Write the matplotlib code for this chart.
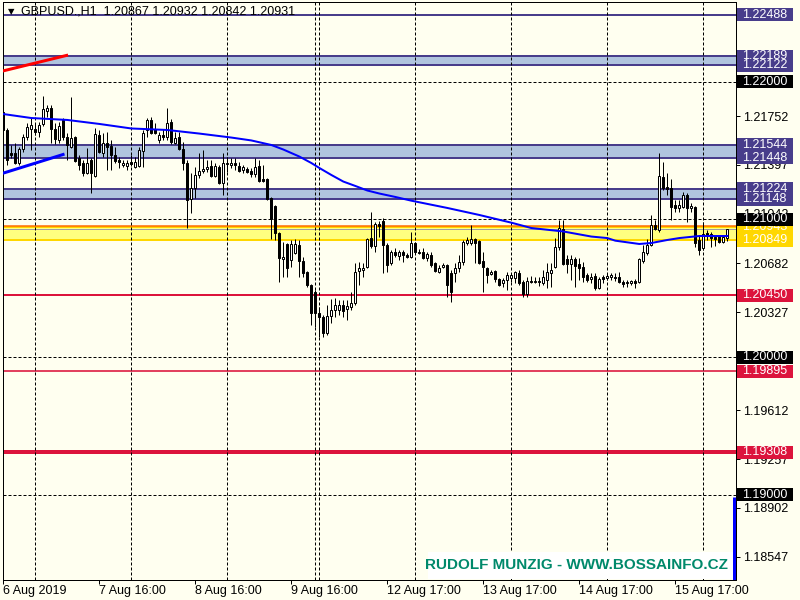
import matplotlib
matplotlib.use('Agg')
import matplotlib.pyplot as plt
import matplotlib.transforms as mtransforms
from matplotlib.patches import Rectangle

plt.rcParams['font.family'] = ['Liberation Sans', 'DejaVu Sans']
plt.rcParams['lines.scale_dashes'] = False

# ---- data (GBPUSD H1) ----
opens = [1.21782, 1.21651, 1.21484, 1.21484, 1.21411, 1.21513, 1.21600, 1.21658, 1.21658, 1.21636,
         1.21695, 1.21789, 1.21811, 1.21658, 1.21578, 1.21724, 1.21600, 1.21527, 1.21600, 1.21447,
         1.21411, 1.21338, 1.21433, 1.21316, 1.21615, 1.21484, 1.21556, 1.21535, 1.21469, 1.21433,
         1.21396, 1.21389, 1.21418, 1.21382, 1.21389, 1.21498, 1.21651, 1.21724, 1.21658, 1.21578,
         1.21615, 1.21600, 1.21709, 1.21556, 1.21600, 1.21513, 1.21411, 1.21149, 1.21229, 1.21324,
         1.21353, 1.21367, 1.21389, 1.21316, 1.21382, 1.21265, 1.21404, 1.21396, 1.21411, 1.21389,
         1.21360, 1.21367, 1.21353, 1.21331, 1.21389, 1.21295, 1.21295, 1.21156, 1.21098, 1.20902,
         1.20713, 1.20822, 1.20705, 1.20756, 1.20815, 1.20698, 1.20618, 1.20524, 1.20473, 1.20320,
         1.20291, 1.20175, 1.20298, 1.20342, 1.20342, 1.20378, 1.20349, 1.20364, 1.20393, 1.20625,
         1.20633, 1.20655, 1.20865, 1.20807, 1.20967, 1.20989, 1.20815, 1.20684, 1.20764, 1.20735,
         1.20764, 1.20742, 1.20727, 1.20829, 1.20764, 1.20764, 1.20720, 1.20742, 1.20684, 1.20618,
         1.20655, 1.20669, 1.20611, 1.20611, 1.20647, 1.20691, 1.20829, 1.20829, 1.20858, 1.20844,
         1.20698, 1.20647, 1.20604, 1.20625, 1.20567, 1.20538, 1.20560, 1.20575, 1.20575, 1.20611,
         1.20545, 1.20458, 1.20553, 1.20545, 1.20553, 1.20538, 1.20560, 1.20611, 1.20655, 1.20800,
         1.20931, 1.20713, 1.20676, 1.20713, 1.20676, 1.20655, 1.20596, 1.20567, 1.20589, 1.20502,
         1.20582, 1.20575, 1.20582, 1.20582, 1.20582, 1.20545, 1.20538, 1.20538, 1.20553, 1.20545,
         1.20698, 1.20756, 1.20815, 1.20960, 1.20924, 1.21309, 1.21236, 1.21229, 1.21105, 1.21084,
         1.21091, 1.21178, 1.21084, 1.21091, 1.20851, 1.20793, 1.20902, 1.20895, 1.20873, 1.20880,
         1.20836, 1.20867]
highs = [1.21811, 1.21666, 1.21542, 1.21556, 1.21527, 1.21622, 1.21702, 1.21738, 1.21702, 1.21709,
         1.21898, 1.21833, 1.21833, 1.21702, 1.21709, 1.21738, 1.21629, 1.21891, 1.21607, 1.21469,
         1.21433, 1.21520, 1.21447, 1.21666, 1.21651, 1.21629, 1.21636, 1.21578, 1.21527, 1.21455,
         1.21433, 1.21433, 1.21469, 1.21455, 1.21527, 1.21651, 1.21738, 1.21745, 1.21702, 1.21636,
         1.21658, 1.21811, 1.21731, 1.21636, 1.21636, 1.21564, 1.21433, 1.21338, 1.21382, 1.21484,
         1.21505, 1.21433, 1.21433, 1.21411, 1.21396, 1.21484, 1.21455, 1.21447, 1.21447, 1.21418,
         1.21396, 1.21382, 1.21375, 1.21447, 1.21433, 1.21396, 1.21302, 1.21164, 1.21105, 1.20909,
         1.20836, 1.20829, 1.20851, 1.20858, 1.20851, 1.20727, 1.20625, 1.20530, 1.20487, 1.20364,
         1.20305, 1.20378, 1.20422, 1.20429, 1.20415, 1.20415, 1.20415, 1.20473, 1.20684, 1.20691,
         1.20684, 1.20865, 1.21055, 1.20982, 1.20989, 1.21011, 1.20829, 1.20778, 1.20793, 1.20778,
         1.20778, 1.20756, 1.20909, 1.20836, 1.20785, 1.20793, 1.20764, 1.20764, 1.20691, 1.20669,
         1.20684, 1.20676, 1.20633, 1.20684, 1.20742, 1.20851, 1.20873, 1.20960, 1.20865, 1.20851,
         1.20764, 1.20655, 1.20633, 1.20633, 1.20575, 1.20575, 1.20618, 1.20611, 1.20625, 1.20633,
         1.20560, 1.20582, 1.20589, 1.20582, 1.20582, 1.20633, 1.20684, 1.20684, 1.20865, 1.20996,
         1.20996, 1.20742, 1.20742, 1.20727, 1.20720, 1.20691, 1.20611, 1.20611, 1.20611, 1.20582,
         1.20596, 1.20611, 1.20611, 1.20611, 1.20618, 1.20560, 1.20560, 1.20560, 1.20567, 1.20720,
         1.20815, 1.20858, 1.21033, 1.20996, 1.21484, 1.21418, 1.21338, 1.21295, 1.21142, 1.21142,
         1.21200, 1.21193, 1.21120, 1.21098, 1.20887, 1.20982, 1.20924, 1.20909, 1.20887, 1.20887,
         1.20880, 1.20932]
lows = [1.21644, 1.21396, 1.21447, 1.21404, 1.21396, 1.21491, 1.21578, 1.21505, 1.21615, 1.21600,
        1.21680, 1.21745, 1.21556, 1.21549, 1.21556, 1.21578, 1.21433, 1.21520, 1.21418, 1.21360,
        1.21316, 1.21331, 1.21193, 1.21309, 1.21484, 1.21455, 1.21360, 1.21360, 1.21411, 1.21375,
        1.21382, 1.21360, 1.21389, 1.21375, 1.21382, 1.21382, 1.21600, 1.21622, 1.21622, 1.21556,
        1.21578, 1.21578, 1.21549, 1.21549, 1.21505, 1.21360, 1.20938, 1.21047, 1.21156, 1.21302,
        1.21338, 1.21345, 1.21309, 1.21309, 1.21258, 1.21178, 1.21345, 1.21375, 1.21360, 1.21345,
        1.21338, 1.21338, 1.21309, 1.21309, 1.21273, 1.21273, 1.21142, 1.20858, 1.20851, 1.20545,
        1.20582, 1.20582, 1.20655, 1.20749, 1.20582, 1.20582, 1.20509, 1.20233, 1.20218, 1.20145,
        1.20145, 1.20160, 1.20247, 1.20291, 1.20305, 1.20291, 1.20269, 1.20342, 1.20378, 1.20524,
        1.20582, 1.20647, 1.20793, 1.20764, 1.20873, 1.20611, 1.20618, 1.20669, 1.20727, 1.20705,
        1.20691, 1.20720, 1.20720, 1.20756, 1.20749, 1.20713, 1.20698, 1.20655, 1.20618, 1.20611,
        1.20647, 1.20436, 1.20400, 1.20545, 1.20618, 1.20669, 1.20815, 1.20815, 1.20684, 1.20676,
        1.20473, 1.20538, 1.20596, 1.20545, 1.20516, 1.20509, 1.20487, 1.20545, 1.20538, 1.20524,
        1.20436, 1.20436, 1.20538, 1.20538, 1.20516, 1.20524, 1.20502, 1.20509, 1.20647, 1.20778,
        1.20669, 1.20611, 1.20560, 1.20509, 1.20560, 1.20545, 1.20545, 1.20538, 1.20487, 1.20495,
        1.20538, 1.20560, 1.20560, 1.20553, 1.20538, 1.20509, 1.20509, 1.20524, 1.20502, 1.20538,
        1.20684, 1.20742, 1.20807, 1.20924, 1.20909, 1.21215, 1.21178, 1.20996, 1.21055, 1.21055,
        1.21084, 1.20982, 1.21055, 1.20800, 1.20742, 1.20778, 1.20851, 1.20800, 1.20807, 1.20829,
        1.20829, 1.20842]
closes = [1.21651, 1.21433, 1.21469, 1.21411, 1.21513, 1.21600, 1.21673, 1.21687, 1.21636, 1.21687,
          1.21804, 1.21811, 1.21658, 1.21585, 1.21680, 1.21600, 1.21542, 1.21593, 1.21425, 1.21396,
          1.21338, 1.21411, 1.21338, 1.21622, 1.21491, 1.21556, 1.21527, 1.21469, 1.21425, 1.21418,
          1.21411, 1.21411, 1.21404, 1.21418, 1.21505, 1.21629, 1.21724, 1.21629, 1.21629, 1.21615,
          1.21600, 1.21702, 1.21564, 1.21593, 1.21513, 1.21411, 1.21142, 1.21229, 1.21324, 1.21353,
          1.21367, 1.21382, 1.21316, 1.21389, 1.21265, 1.21411, 1.21411, 1.21411, 1.21396, 1.21353,
          1.21382, 1.21345, 1.21331, 1.21382, 1.21280, 1.21280, 1.21149, 1.21004, 1.20902, 1.20720,
          1.20727, 1.20647, 1.20822, 1.20822, 1.20698, 1.20611, 1.20524, 1.20320, 1.20320, 1.20291,
          1.20175, 1.20298, 1.20342, 1.20378, 1.20378, 1.20335, 1.20371, 1.20393, 1.20618, 1.20647,
          1.20647, 1.20858, 1.20807, 1.20967, 1.20953, 1.20815, 1.20669, 1.20764, 1.20742, 1.20764,
          1.20742, 1.20727, 1.20829, 1.20764, 1.20756, 1.20720, 1.20749, 1.20669, 1.20625, 1.20647,
          1.20669, 1.20524, 1.20473, 1.20647, 1.20691, 1.20836, 1.20851, 1.20858, 1.20829, 1.20684,
          1.20655, 1.20596, 1.20618, 1.20567, 1.20524, 1.20560, 1.20596, 1.20596, 1.20618, 1.20538,
          1.20458, 1.20553, 1.20545, 1.20553, 1.20545, 1.20582, 1.20618, 1.20633, 1.20800, 1.20938,
          1.20676, 1.20676, 1.20713, 1.20662, 1.20647, 1.20582, 1.20560, 1.20582, 1.20502, 1.20567,
          1.20567, 1.20589, 1.20596, 1.20575, 1.20545, 1.20531, 1.20545, 1.20553, 1.20538, 1.20713,
          1.20764, 1.20815, 1.20960, 1.20931, 1.21316, 1.21229, 1.21222, 1.21091, 1.21084, 1.21105,
          1.21178, 1.21084, 1.21098, 1.20829, 1.20778, 1.20895, 1.20887, 1.20865, 1.20858, 1.20836,
          1.20873, 1.20931]

# moving average, sampled at these bars
ma_idx = [0, 7, 16, 24, 32, 41, 49, 57, 62, 67, 70, 74, 77, 79, 82, 85, 88, 91, 94, 98, 102,
          111, 119, 127, 132, 140, 147, 151, 153, 159, 162, 166, 169, 174, 181]
ma_vals = [1.21767, 1.21738, 1.21724, 1.21695, 1.21662, 1.21651, 1.21625, 1.21596, 1.21575, 1.21542,
           1.21509, 1.21458, 1.21411, 1.21375, 1.21324, 1.21276, 1.21244, 1.21211, 1.21189, 1.21164,
           1.21137, 1.21084, 1.21033, 1.20977, 1.20938, 1.20913, 1.20876, 1.20865, 1.20846, 1.20822,
           1.20829, 1.20851, 1.20865, 1.20880, 1.20880]

time_idx = [0, 24, 48, 72, 96, 120, 144, 168]
time_labels = ['6 Aug 2019', '7 Aug 16:00', '8 Aug 16:00', '9 Aug 16:00',
               '12 Aug 17:00', '13 Aug 17:00', '14 Aug 17:00', '15 Aug 17:00']
day_separators = [8, 32, 56, 78, 79, 103, 127, 151, 175]

price_ticks = [1.21752, 1.21397, 1.21042, 1.20682, 1.20327, 1.19612, 1.19257, 1.18902, 1.18547]

zones_blue = [(1.22122, 1.22189), (1.21448, 1.21544), (1.21148, 1.21224)]
zone_yellow = (1.20849, 1.20943)
top_level = 1.22488
round_levels = [1.22000, 1.21000, 1.20000, 1.19000]
red_levels = [1.20450, 1.19895, 1.19308]
bid_price = 1.20931
ask_price = 1.20955

red_trend_x = [-0.15, 16.2]
red_trend_y = [1.22080, 1.22196]
blue_trend_x = [-0.15, 15.3]
blue_trend_y = [1.21336, 1.21476]
blue_bar_top = 1.18982

title = 'GBPUSD.,H1  1.20867 1.20932 1.20842 1.20931'
watermark = 'RUDOLF MUNZIG - WWW.BOSSAINFO.CZ'

# ---- styling ----
W, H = 800, 600
PX = 0.72          # one pixel in points at dpi 100
BG = '#FFFFF0'
SLATE = '#483D8B'
STEEL = '#B0C4DE'
CRIMSON = '#DC143C'
GOLD = '#FFD700'
DASH = (0, (3 * PX, 2 * PX))

fig = plt.figure(figsize=(8, 6), dpi=100, facecolor=BG)
ax = fig.add_axes([3 / W, 20 / H, 733 / W, 578 / H])
ax.set_facecolor(BG)
ax.set_xlim(-0.075, 183.175)
ax.set_ylim(1.183782, 1.225818)
px_per_unit = 13750.0

for s in ax.spines.values():
    s.set_color('black')
    s.set_linewidth(PX)

# zones and levels
for lo, hi in zones_blue:
    ax.axhspan(lo, hi, color=STEEL, lw=0, zorder=1)
    ax.axhline(lo, color=SLATE, lw=2 * PX, zorder=2)
    ax.axhline(hi, color=SLATE, lw=2 * PX, zorder=2)
ax.axhline(top_level, color=SLATE, lw=2 * PX, zorder=2)

ax.axhspan(zone_yellow[0], zone_yellow[1], color='#FFFF80', lw=0, zorder=1)
ax.axhline(zone_yellow[0], color=GOLD, lw=2 * PX, zorder=2)
ax.axhline(zone_yellow[1], color=GOLD, lw=2 * PX, zorder=2)
ax.axhline(ask_price, color='#FF6A00', lw=1.5 * PX, zorder=2)
ax.axhline(bid_price, color='#A0A0A0', lw=PX, zorder=2)

for lvl, w in zip(red_levels, [2, 1.6, 4]):
    ax.axhline(lvl, color=CRIMSON, lw=w * PX, zorder=2)
for lvl in round_levels:
    ax.axhline(lvl, color='black', lw=PX, ls=DASH, zorder=2)
for d in day_separators:
    ax.axvline(d, color='black', lw=PX, ls=DASH, zorder=2)

# trend lines
ax.plot(red_trend_x, red_trend_y, color='#FF0000', lw=3 * PX, zorder=3, solid_capstyle='butt')
ax.plot(blue_trend_x, blue_trend_y, color='#0000FF', lw=3 * PX, zorder=3, solid_capstyle='butt')

# candles
idx = list(range(len(opens)))
ax.vlines(idx, lows, highs, colors='black', linewidth=PX, zorder=3)
bottoms = [min(o, c) for o, c in zip(opens, closes)]
heights = [max(abs(c - o), 1.0 / px_per_unit) for o, c in zip(opens, closes)]
colors = ['white' if c > o else 'black' for o, c in zip(opens, closes)]
ax.bar(idx, heights, width=0.5, bottom=bottoms, color=colors,
       edgecolor='black', linewidth=PX, zorder=4)

# moving average
ax.plot(ma_idx, ma_vals, color='#0000FF', lw=2 * PX, zorder=5)

# blue indicator bar at the right edge
ax.vlines(182.6, ax.get_ylim()[0], blue_bar_top, colors='#0000FF', lw=3 * PX, zorder=5)

# axes ticks
ax.yaxis.tick_right()
ax.set_yticks(price_ticks)
ax.set_yticklabels([f'{p:.5f}' for p in price_ticks])
ax.tick_params(axis='y', direction='out', length=4 * PX, width=PX, pad=3 * PX,
               labelsize=9, colors='black')
ax.set_xticks(time_idx)
ax.set_xticklabels(time_labels, ha='left')
ax.tick_params(axis='x', direction='out', length=4 * PX, width=PX, pad=1 * PX,
               labelsize=9, colors='black')

# price labels on the right
trans = mtransforms.blended_transform_factory(fig.transFigure, ax.transData)
box_h = 13 / px_per_unit


def price_box(p, bg, z):
    ax.add_patch(Rectangle((737 / W, p - box_h / 2), 56 / W, box_h, transform=trans,
                           fc=bg, ec='none', clip_on=False, zorder=z))
    ax.text(742 / W, p, f'{p:.5f}', transform=trans, color='white', fontsize=9,
            va='center', ha='left', clip_on=False, zorder=z + 0.5)


z = 10
for p, bg in [(top_level, SLATE),
              (zones_blue[0][1], SLATE), (zones_blue[0][0], SLATE),
              (zones_blue[1][1], SLATE), (zones_blue[1][0], SLATE),
              (zones_blue[2][1], SLATE), (zones_blue[2][0], SLATE),
              (zone_yellow[1], GOLD), (zone_yellow[0], GOLD),
              (red_levels[0], CRIMSON), (red_levels[1], CRIMSON), (red_levels[2], CRIMSON)]:
    price_box(p, bg, z)
    z += 1
for p in round_levels:
    price_box(p, 'black', z)
    z += 1

# title and watermark
fig.text(8 / W, 1 - 12 / H, '\u25BC', fontsize=6, family='DejaVu Sans', va='center', ha='left')
fig.text(21 / W, 1 - 12 / H, title, fontsize=9, va='center', ha='left')

ax.add_patch(Rectangle((428 / W, 21 / H), 305 / W, 27 / H, transform=fig.transFigure,
                       fc='white', ec='none', zorder=6))
fig.text(728 / W, 1 - 565 / H, watermark, fontsize=11, fontweight='bold',
         color='#00896B', va='center', ha='right')

fig.savefig('out.png', dpi=100, facecolor=BG)
